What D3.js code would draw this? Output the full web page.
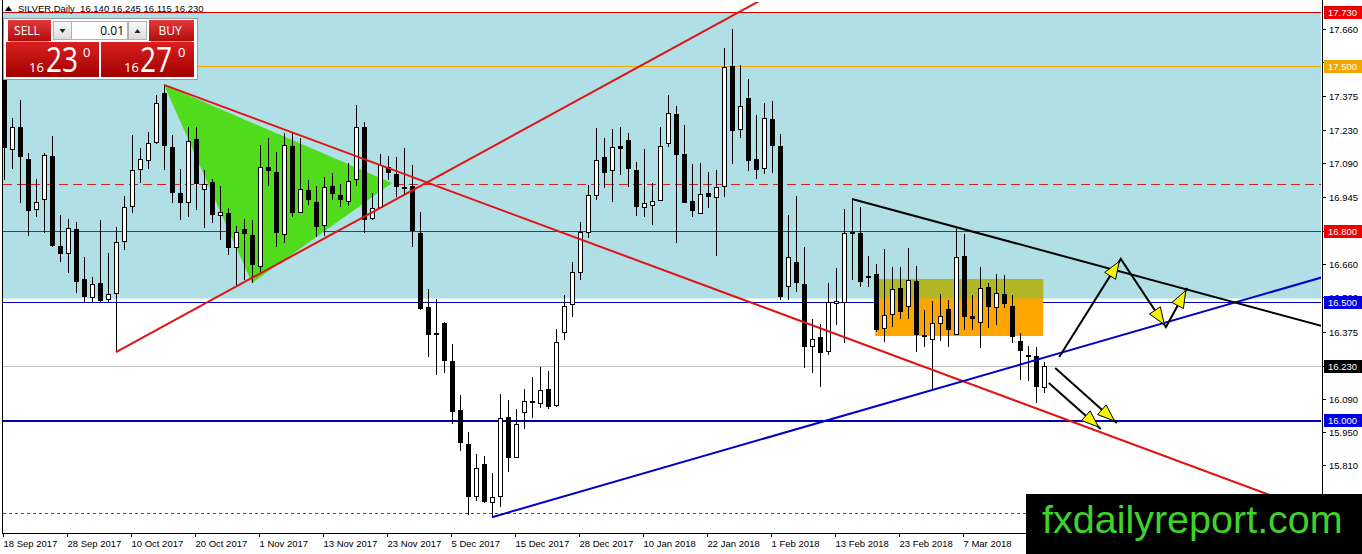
<!DOCTYPE html>
<html><head><meta charset="utf-8">
<script src="https://cdn.jsdelivr.net/npm/d3@7"></script>
<style>body{margin:0;background:#fff;overflow:hidden}svg{display:block}</style>
</head><body><svg id="c" width="1362" height="554"></svg>
<script>
// ---------- DATA ----------
const dateLabels = ["18 Sep 2017","28 Sep 2017","10 Oct 2017","20 Oct 2017","1 Nov 2017","13 Nov 2017","23 Nov 2017","5 Dec 2017","15 Dec 2017","28 Dec 2017","10 Jan 2018","22 Jan 2018","1 Feb 2018","13 Feb 2018","23 Feb 2018","7 Mar 2018"];
const dateLabelBars = [0,8,16,24,32,40,48,56,64,72,80,88,96,104,112,120];
const opens = [17.527,17.149,17.242,17.107,16.895,16.937,17.119,16.738,16.708,16.810,16.598,16.521,16.581,16.513,16.538,16.759,16.907,17.064,17.102,17.179,17.387,17.158,16.962,16.924,17.192,16.979,17.009,16.869,16.878,16.733,16.810,16.784,16.653,17.073,17.052,16.789,17.162,16.882,16.975,16.924,16.827,16.992,16.954,16.929,17.022,17.242,16.856,16.903,17.073,17.043,16.988,16.992,16.793,16.479,16.369,16.411,16.250,16.042,15.898,15.677,15.813,15.652,15.677,16.013,15.843,16.034,16.080,16.072,16.131,16.063,16.373,16.492,16.627,16.797,16.954,17.115,17.060,17.162,17.187,17.060,16.903,16.912,16.933,17.175,17.298,17.128,16.929,16.878,16.962,16.946,16.992,17.501,17.234,17.365,17.107,17.069,17.276,17.162,16.568,16.670,16.577,16.314,16.352,16.292,16.496,16.500,16.797,16.793,16.611,16.619,16.390,16.449,16.560,16.483,16.589,16.360,16.343,16.411,16.471,16.365,16.695,16.441,16.415,16.564,16.479,16.534,16.483,16.335,16.275,16.271,16.140];
const highs = [17.569,17.281,17.357,17.132,17.022,17.132,17.204,16.869,16.852,16.840,16.691,16.606,16.848,16.708,16.818,16.950,17.208,17.153,17.221,17.378,17.421,17.208,17.064,17.242,17.242,17.060,17.022,16.992,16.899,16.823,16.852,16.848,17.166,17.196,17.136,17.217,17.217,17.196,17.018,16.992,17.030,17.047,17.001,17.090,17.336,17.264,16.962,17.128,17.119,17.115,17.153,17.081,16.882,16.555,16.513,16.415,16.322,16.106,15.949,15.856,15.847,15.775,16.110,16.085,16.046,16.131,16.182,16.225,16.208,16.386,16.530,16.670,16.840,16.996,17.238,17.196,17.234,17.242,17.217,17.094,17.149,17.005,17.242,17.378,17.331,17.251,17.085,17.090,17.052,17.060,17.577,17.658,17.505,17.446,17.293,17.344,17.353,17.213,16.869,16.950,16.733,16.428,16.407,16.581,16.644,16.895,16.937,16.903,16.695,16.661,16.725,16.649,16.649,16.729,16.653,16.466,16.505,16.534,16.509,16.818,16.789,16.530,16.649,16.581,16.619,16.615,16.530,16.369,16.314,16.309,16.245];
const lows = [17.018,17.064,16.920,16.780,16.861,16.793,16.733,16.670,16.623,16.538,16.500,16.500,16.500,16.500,16.288,16.721,16.878,17.005,17.064,17.170,17.060,16.920,16.848,16.861,16.890,16.814,16.835,16.763,16.700,16.572,16.594,16.581,16.623,16.992,16.733,16.750,16.861,16.878,16.912,16.776,16.780,16.933,16.903,16.907,16.992,16.793,16.848,16.899,17.018,16.946,16.954,16.733,16.466,16.267,16.191,16.199,15.983,15.868,15.597,15.656,15.648,15.588,15.631,15.779,15.840,15.962,16.008,16.051,16.046,16.055,16.339,16.437,16.594,16.772,16.933,16.984,16.924,17.039,16.988,16.865,16.861,16.827,16.930,17.158,16.750,16.920,16.861,16.875,16.899,16.695,16.946,17.085,17.196,17.056,17.022,17.043,17.047,16.509,16.509,16.543,16.220,16.199,16.140,16.275,16.403,16.326,16.594,16.564,16.564,16.373,16.331,16.394,16.428,16.428,16.288,16.309,16.127,16.335,16.309,16.365,16.382,16.382,16.305,16.390,16.403,16.475,16.326,16.170,16.165,16.072,16.115];
const closes = [17.153,17.242,17.115,16.886,16.924,17.124,16.736,16.704,16.814,16.585,16.521,16.577,16.504,16.534,16.755,16.903,17.060,17.107,17.175,17.344,17.162,16.962,16.920,17.183,17.001,17.001,16.869,16.882,16.729,16.797,16.789,16.657,17.073,17.056,16.793,17.166,16.878,16.979,16.933,16.818,16.988,16.958,16.933,17.013,17.242,16.848,16.899,17.081,17.047,16.988,16.979,16.801,16.471,16.360,16.365,16.250,16.034,15.902,15.673,15.796,15.652,15.673,16.008,15.839,15.983,16.080,16.072,16.127,16.055,16.331,16.483,16.627,16.797,16.954,17.102,17.047,17.158,17.149,17.064,16.903,16.920,16.929,17.162,17.302,17.124,16.922,16.886,16.958,16.946,16.988,17.497,17.225,17.331,17.098,17.060,17.281,17.162,16.521,16.691,16.581,16.309,16.343,16.284,16.500,16.504,16.793,16.789,16.585,16.606,16.382,16.445,16.556,16.458,16.594,16.360,16.352,16.411,16.441,16.382,16.691,16.437,16.428,16.560,16.479,16.538,16.492,16.352,16.293,16.273,16.140,16.230];
const priceTicks = [17.660,17.520,17.375,17.230,17.090,16.945,16.800,16.660,16.520,16.375,16.230,16.090,15.950,15.810,15.670];
// horizontal levels: price, colour, width, dash, boxed label
const levelPrices  = [17.730, 17.500, 17.000, 16.800, 16.500, 16.230, 16.000, 15.605];
const levelColors  = ["#d40000","#f0a800","#d42020","#dd0000","#0000b0","#c0c0c0","#0000b0","#e01010"];
const levelWidths  = [1,1,1,1,1,1,2,1];
const levelDashes  = [null,null,"9,5",null,null,null,null,"3,3"];
const levelBoxed   = [true,true,false,true,true,true,true,false];
const levelBoxFill = ["#ee0000","#f0a800",null,"#ee0000","#0000e0","#000000","#0000e0",null];
// drawn objects in (bar index, price)
const zoneTop = 17.730, zoneBottom = 16.515;
const boxBars = [108.9, 129.9], boxPrices = [16.598, 16.356];
const triangle = [[20,17.421],[31,16.581],[48.5,17.005]];
const redUp = [[14,16.288],[74.5,17.408]];
const redDown = [[20,17.421],[130,16.037]];
const blueTrend = [[61,15.588],[116,16.127]];
const blackTrend = [[106,16.937],[130,16.717]];
const arrowPaths = [
  [[131.9,16.267],[139.6,16.683],[145.25,16.394],[147.9,16.560]],
  [[131.4,16.220],[139.1,15.987]],
  [[130.6,16.157],[137.1,15.962]]
];
const titleText = "SILVER,Daily  16.140 16.245 16.115 16.230";

// ---------- SCALES ----------
const svg = d3.select("#c");
const x = d3.scaleLinear().domain([0,164.625]).range([4,1321]);
const y = d3.scaleLinear().domain([16.0,17.73]).range([420,12]);
const L = 3, R = 1321, T = 2, B = 533;
const F = "'Liberation Sans', Arial, sans-serif";

const defs = svg.append("defs");
defs.append("clipPath").attr("id","plot").append("rect").attr("x",L).attr("y",T).attr("width",R-L).attr("height",B-T);
function grad(id,c1,c2){const g=defs.append("linearGradient").attr("id",id).attr("x1",0).attr("y1",0).attr("x2",0).attr("y2",1);
  g.append("stop").attr("offset","0%").attr("stop-color",c1);g.append("stop").attr("offset","100%").attr("stop-color",c2);}
grad("btn","#e23a3a","#b30c0c");
grad("big","#d82020","#a30000");
grad("spin","#fafafa","#dcdcdc");

svg.append("rect").attr("width",1362).attr("height",554).attr("fill","#fff");

const plot = svg.append("g").attr("clip-path","url(#plot)");
// zone
plot.append("rect").attr("x",L).attr("width",R-L).attr("y",y(zoneTop)).attr("height",y(zoneBottom)-y(zoneTop)).attr("fill","#b0dfe5");
// levels (solid ones as thin filled rects, dashed ones as dashed lines)
levelPrices.forEach((p,i)=>{
  const yy = Math.round(y(p));
  if(levelDashes[i]){
    plot.append("line").attr("x1",L).attr("x2",R).attr("y1",yy+0.5).attr("y2",yy+0.5)
      .attr("stroke",levelColors[i]).attr("stroke-width",levelWidths[i]).attr("stroke-dasharray",levelDashes[i]);
  } else {
    plot.append("rect").attr("x",L).attr("width",R-L).attr("y",yy).attr("height",levelWidths[i]).attr("fill",levelColors[i]);
  }
});
// box
plot.append("rect").attr("x",x(boxBars[0])).attr("width",x(boxBars[1])-x(boxBars[0]))
  .attr("y",y(boxPrices[0])).attr("height",y(boxPrices[1])-y(boxPrices[0])).attr("fill","#ffa500");
plot.append("rect").attr("x",x(boxBars[0])).attr("width",x(boxBars[1])-x(boxBars[0]))
  .attr("y",y(boxPrices[0])).attr("height",y(zoneBottom)-y(boxPrices[0])).attr("fill","#b0b626");
// triangle
plot.append("polygon").attr("points",triangle.map(d=>[x(d[0]),y(d[1])].join(",")).join(" ")).attr("fill","#50dc1c");

// candles
const cg = plot.append("g").attr("shape-rendering","crispEdges");
opens.forEach((o,i)=>{
  const cx = Math.round(x(i)), h=highs[i], l=lows[i], c=closes[i];
  const bull = c>=o;
  cg.append("line").attr("x1",cx+0.5).attr("x2",cx+0.5).attr("y1",y(h)).attr("y2",y(l)).attr("stroke","#000");
  const top = y(Math.max(o,c)), bot = y(Math.min(o,c));
  if(bull){
    cg.append("rect").attr("x",cx-1.5).attr("width",4).attr("y",Math.round(top)+0.5).attr("height",Math.max(1,Math.round(bot-top)))
      .attr("fill","#fff").attr("stroke","#000");
  } else {
    cg.append("rect").attr("x",cx-2).attr("width",5).attr("y",Math.round(top)).attr("height",Math.max(2,Math.round(bot-top)))
      .attr("fill","#000");
  }
});

// trend lines (rays extended to the right edge)
function ray(pts,color,w){
  const [a,b]=pts; const k=(b[1]-a[1])/(b[0]-a[0]);
  const xe = x.domain()[1]+2;
  plot.append("line").attr("x1",x(a[0])).attr("y1",y(a[1])).attr("x2",x(xe)).attr("y2",y(a[1]+k*(xe-a[0])))
    .attr("stroke",color).attr("stroke-width",w);
}
ray(redUp,"#e01414",2);
ray(redDown,"#e01414",2);
ray(blueTrend,"#0000cc",2);
ray(blackTrend,"#000",2);

// arrows
const ag = svg.append("g");
arrowPaths.forEach(path=>{
  const P = path.map(d=>[x(d[0]),y(d[1])]);
  ag.append("path").attr("d",d3.line()(P)).attr("fill","none").attr("stroke","#000").attr("stroke-width",2);
  for(let i=1;i<P.length;i++){
    const [x1,y1]=P[i-1],[x2,y2]=P[i];
    const dx=x2-x1,dy=y2-y1,len=Math.hypot(dx,dy),ux=dx/len,uy=dy/len;
    const tx=x2-ux*3,ty=y2-uy*3,bx=tx-ux*17,by=ty-uy*17,px=-uy*6.5,py=ux*6.5;
    ag.append("polygon").attr("points",[[tx,ty],[bx+px,by+py],[bx-px,by-py]].map(p=>p.join(",")).join(" "))
      .attr("fill","#f5f500").attr("stroke","#000").attr("stroke-width",1);
  }
});

// frame
const fr = svg.append("g").attr("stroke","#000").attr("shape-rendering","crispEdges");
fr.append("line").attr("x1",2.5).attr("x2",2.5).attr("y1",0).attr("y2",B);
fr.append("line").attr("x1",2).attr("x2",R+1).attr("y1",B+0.5).attr("y2",B+0.5);
fr.append("line").attr("x1",R+1.5).attr("x2",R+1.5).attr("y1",0).attr("y2",B+1);

// right axis
const ra = svg.append("g");
priceTicks.forEach(p=>{
  const yy=Math.round(y(p))+0.5;
  ra.append("line").attr("x1",R+1).attr("x2",R+5).attr("y1",yy).attr("y2",yy).attr("stroke","#000").attr("shape-rendering","crispEdges");
  ra.append("text").attr("x",R+8).attr("y",yy).attr("dominant-baseline","central").attr("font-family",F).attr("font-size",9.5)
    .attr("fill","#000").text(p.toFixed(3));
});
levelPrices.forEach((p,i)=>{
  if(!levelBoxed[i]) return;
  const yy=Math.round(y(p));
  ra.append("rect").attr("x",R+3).attr("y",yy-6).attr("width",38).attr("height",13).attr("fill",levelBoxFill[i]);
  ra.append("text").attr("x",R+7).attr("y",yy+0.5).attr("dominant-baseline","central").attr("font-family",F).attr("font-size",9.5)
    .attr("fill","#fff").text(p.toFixed(3));
});

// bottom axis
const ba = svg.append("g");
dateLabelBars.forEach((b,i)=>{
  const xx=Math.round(x(b))-0.5;
  ba.append("line").attr("x1",xx).attr("x2",xx).attr("y1",B).attr("y2",B+4).attr("stroke","#000").attr("shape-rendering","crispEdges");
  ba.append("text").attr("x",xx).attr("y",547).attr("font-family",F).attr("font-size",9.5).attr("fill","#000").text(dateLabels[i]);
});

// title
svg.append("path").attr("d","M5,11 L8.5,6 L12,11 Z").attr("fill","#000");
svg.append("text").attr("x",18).attr("y",12).attr("font-family",F).attr("font-size",9.5).attr("fill","#000").attr("xml:space","preserve").text(titleText);

// trade panel
const tp = svg.append("g");
const PF = "'Open Sans','Noto Sans',sans-serif";
tp.append("rect").attr("x",3.5).attr("y",18.5).attr("width",194).attr("height",61).attr("fill","#fff").attr("stroke","#9a9a9a");
tp.append("rect").attr("x",8).attr("y",20).attr("width",43).attr("height",21).attr("fill","url(#btn)");
tp.append("line").attr("x1",10).attr("x2",49).attr("y1",41.5).attr("y2",41.5).attr("stroke","#f08080");
tp.append("text").attr("x",27).attr("y",35).attr("text-anchor","middle").attr("font-family",PF).attr("font-size",12).attr("fill","#fff").text("SELL");
tp.append("rect").attr("x",53.5).attr("y",21.5).attr("width",18).attr("height",18).attr("fill","url(#spin)").attr("stroke","#b0b0b0");
tp.append("path").attr("d","M59.5,29 L65.5,29 L62.5,33 Z").attr("fill","#222");
tp.append("rect").attr("x",71.5).attr("y",21.5).attr("width",56).attr("height",18).attr("fill","#fff").attr("stroke","#b0b0b0");
tp.append("text").attr("x",124).attr("y",35).attr("text-anchor","end").attr("font-family",PF).attr("font-size",12).attr("fill","#000").text("0.01");
tp.append("rect").attr("x",128.5).attr("y",21.5).attr("width",18).attr("height",18).attr("fill","url(#spin)").attr("stroke","#b0b0b0");
tp.append("path").attr("d","M134.5,33 L140.5,33 L137.5,29 Z").attr("fill","#222");
tp.append("rect").attr("x",149).attr("y",20).attr("width",45).attr("height",21).attr("fill","url(#btn)");
tp.append("line").attr("x1",151).attr("x2",192).attr("y1",41.5).attr("y2",41.5).attr("stroke","#f08080");
tp.append("text").attr("x",170).attr("y",35).attr("text-anchor","middle").attr("font-family",PF).attr("font-size",12).attr("fill","#fff").text("BUY");
tp.append("rect").attr("x",6).attr("y",42).attr("width",93).attr("height",35).attr("fill","url(#big)");
tp.append("rect").attr("x",101).attr("y",42).attr("width",93).attr("height",35).attr("fill","url(#big)");
[[29,46,83,"16","23","0"],[124,140,178,"16","27","0"]].forEach(d=>{
  tp.append("text").attr("x",d[0]).attr("y",72).attr("font-family",PF).attr("font-size",13).attr("fill","#fff").text(d[3]);
  tp.append("text").attr("x",d[1]).attr("y",72).attr("font-family",PF).attr("font-size",34).attr("fill","#fff")
    .attr("textLength",32).attr("lengthAdjust","spacingAndGlyphs").text(d[4]);
  tp.append("text").attr("x",d[2]).attr("y",57).attr("font-family",PF).attr("font-size",13).attr("fill","#fff").text(d[5]);
});

// logo
svg.append("rect").attr("x",1026).attr("y",494).attr("width",336).attr("height",60).attr("fill","#000");
svg.append("text").attr("x",1042).attr("y",533).attr("font-family",F).attr("font-size",39.5).attr("fill","#3fd22a").text("fxdailyreport.com");
</script></body></html>
